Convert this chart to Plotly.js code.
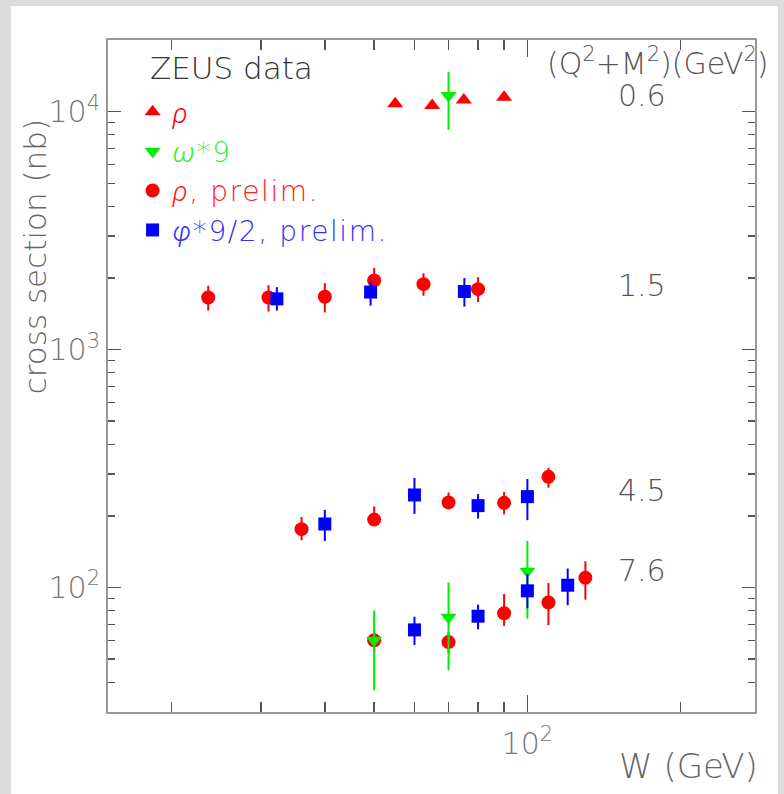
<!DOCTYPE html>
<html>
<head>
<meta charset="utf-8">
<script src="https://cdn.plot.ly/plotly-3.0.1.min.js"></script>
<style>
html,body{margin:0;padding:0;background:#dcdcdc;width:784px;height:794px;overflow:hidden;}
#chart{position:absolute;left:11px;top:6px;width:767px;height:788px;background:#fff;}
#chart .legend text{letter-spacing:1.6px;}
#chart .legend, #chart .legend *{clip-path:none !important;}
</style>
</head>
<body>
<div id="chart"></div>
<script>
// rho (triangles), Q2+M2 = 0.6
const rhoW = [55, 65, 75, 90];
const rhoSig = [10800, 10600, 11200, 11500];

// omega*9 (down triangles)
const omegaW = [70, 50, 70, 100];
const omegaSig = [11700, 60, 75, 117];
const omegaErrUp = [3000, 20, 30, 40];
const omegaErrDn = [3300, 23, 30, 43];

// rho, prelim. (circles): rows 1.5, 4.5, 7.6
const rhoPW = [23.6, 31, 40, 50, 62.5, 80, 36, 50, 70, 90, 110, 50, 70, 90, 110, 130];
const rhoPSig = [1656, 1656, 1667, 1952, 1884, 1795, 176, 193, 228, 227, 292, 60, 59, 78, 86.5, 110];
const rhoPErrUp = [198, 210, 235, 250, 210, 220, 22, 26, 23, 25, 27, 6, 6, 16, 18, 19];
const rhoPErrDn = [197, 210, 235, 218, 200, 210, 18, 11, 14, 24, 29, 6, 6, 9, 17, 21];

// phi*9/2, prelim. (squares)
const phiW = [32.2, 49.2, 75.2, 40, 60, 80, 100, 60, 80, 100, 120];
const phiSig = [1634, 1745, 1755, 185, 245, 221, 241, 66.4, 75.8, 96.9, 102.3];
const phiErrUp = [196, 187, 244, 27, 44, 26, 45, 9, 9, 17, 18];
const phiErrDn = [175, 214, 238, 28, 41, 26, 49, 9, 9, 15, 18];

// labels
const rowLabels = ['0.6', '1.5', '4.5', '7.6'];
const xMajor = [100];
const xMajorText = ['10<sup>2</sup>'];
const xMinor = [20, 30, 40, 50, 60, 70, 80, 90, 200];
const yMajor = [100, 1000, 10000];
const yMajorText = ['10<sup>2</sup>', '10<sup>3</sup>', '10<sup>4</sup>'];
const yMinor = [40, 50, 60, 70, 80, 90, 200, 300, 400, 500, 600, 700, 800, 900, 2000, 3000, 4000, 5000, 6000, 7000, 8000, 9000];

const RED = '#ff0000', GREEN = '#00ee00', BLUE = '#0000ff';
const G = (c) => '<span style="font-family:Roboto;font-weight:300;font-style:italic">' + c + '</span>';

const traces = [
  {
    x: rhoW, y: rhoSig, mode: 'markers', type: 'scatter',
    name: '<span style="color:#ff0000">' + G('ρ') + '</span>',
    legendrank: 1,
    marker: {symbol: 'triangle-up', size: 14, color: RED}
  },
  {
    x: rhoPW, y: rhoPSig, mode: 'markers', type: 'scatter',
    name: '<span style="color:#ff2020">' + G('ρ') + ', prelim.</span>',
    legendrank: 3,
    marker: {symbol: 'circle', size: 14, color: RED},
    error_y: {type: 'data', symmetric: false, array: rhoPErrUp, arrayminus: rhoPErrDn, color: RED, thickness: 2, width: 0}
  },
  {
    x: omegaW, y: omegaSig, mode: 'markers', type: 'scatter',
    name: '<span style="color:#33ee33">' + G('ω') + '*9</span>',
    legendrank: 2,
    marker: {symbol: 'triangle-down', size: 14, color: GREEN},
    error_y: {type: 'data', symmetric: false, array: omegaErrUp, arrayminus: omegaErrDn, color: GREEN, thickness: 2, width: 0}
  },
  {
    x: phiW, y: phiSig, mode: 'markers', type: 'scatter',
    name: '<span style="color:#3030ff">' + G('φ') + '*9/2, prelim.</span>',
    legendrank: 4,
    marker: {symbol: 'square', size: 13, color: BLUE},
    error_y: {type: 'data', symmetric: false, array: phiErrUp, arrayminus: phiErrDn, color: BLUE, thickness: 2, width: 0}
  }
];

const rowY = [0.918, 0.634, 0.330, 0.211];
const annotations = [
  {text: 'ZEUS data', xref: 'paper', yref: 'paper', x: 0.062, y: 0.958, xanchor: 'left', yanchor: 'middle', showarrow: false, font: {size: 31, color: '#333'}},
  {text: '(Q<sup>2</sup>+M<sup>2</sup>)(GeV<sup>2</sup>)', xref: 'paper', yref: 'paper', x: 0.675, y: 0.968, xanchor: 'left', yanchor: 'middle', showarrow: false, font: {size: 30, color: '#555'}},
  {text: 'cross section (nb)', xref: 'paper', yref: 'paper', x: -0.113, y: 0.678, xanchor: 'center', yanchor: 'middle', textangle: -90, showarrow: false, font: {size: 31, color: '#666'}},
  {text: 'W (GeV)', xref: 'paper', yref: 'paper', x: 1.008, y: -0.08, xanchor: 'right', yanchor: 'middle', showarrow: false, font: {size: 34, color: '#666'}}
];
rowLabels.forEach((t, i) => annotations.push({
  text: t, xref: 'paper', yref: 'paper', x: 0.825, y: rowY[i], xanchor: 'center', yanchor: 'middle', showarrow: false, font: {size: 30, color: '#555'}
}));

const axisCommon = {
  type: 'log', showgrid: false, zeroline: false, showline: true, linecolor: '#999', linewidth: 2,
  mirror: 'ticks', ticks: 'inside', ticklen: 14, tickwidth: 1.5, tickcolor: '#555', tickmode: 'array',
  tickfont: {size: 30, color: '#777'}
};

const layout = {
  width: 767, height: 788,
  margin: {l: 97, r: 23, t: 34, b: 82},
  paper_bgcolor: '#fff', plot_bgcolor: '#fff',
  font: {family: '"DejaVu Sans", sans-serif', weight: 200, color: '#666'},
  showlegend: true,
  legend: {x: 0.038, y: 0.930, xanchor: 'left', yanchor: 'top', bgcolor: 'rgba(0,0,0,0)', font: {size: 28}, tracegroupgap: 0, itemwidth: 30},
  xaxis: Object.assign({}, axisCommon, {
    range: [Math.log10(15), Math.log10(280)],
    tickvals: xMajor, ticktext: xMajorText, ticklen: 17, ticklabelstandoff: 4,
    minor: {tickmode: 'array', tickvals: xMinor, ticks: 'inside', ticklen: 10, tickwidth: 1.5, tickcolor: '#555'}
  }),
  yaxis: Object.assign({}, axisCommon, {
    range: [Math.log10(30), Math.log10(20000)],
    tickvals: yMajor, ticktext: yMajorText, ticklen: 13,
    minor: {tickmode: 'array', tickvals: yMinor, ticks: 'inside', ticklen: 7, tickwidth: 1.5, tickcolor: '#555'}
  }),
  annotations: annotations
};

Plotly.newPlot('chart', traces, layout, {displayModeBar: false, staticPlot: true});
</script>
</body>
</html>
